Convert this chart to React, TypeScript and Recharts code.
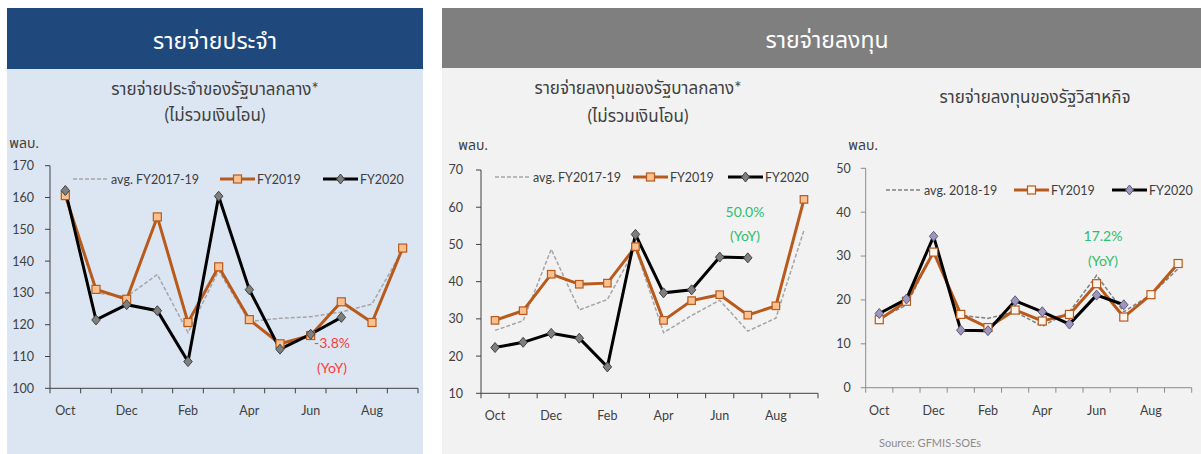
import { Line, LineChart, XAxis, YAxis } from "recharts"

const FONT = "Lato, 'Noto Sans', 'Noto Sans Thai', Tahoma, sans-serif"

const months = ["Oct", "Nov", "Dec", "Jan", "Feb", "Mar", "Apr", "May", "Jun", "Jul", "Aug", "Sep"]

// รายจ่ายประจำ (พลบ.)
const recurAvg = [161, 130, 128.8, 135.8, 117.5, 137, 121, 122, 122.5, 124, 126.5, 143.5]
const recurFy19 = [160.6, 131.1, 128.0, 153.9, 120.7, 138.2, 121.6, 114.0, 116.6, 127.2, 120.7, 144.1]
const recurFy20 = [162.2, 121.5, 126.3, 124.4, 108.4, 160.4, 131.0, 112.3, 117.0, 122.3, null, null]
const recurTicks = [100, 110, 120, 130, 140, 150, 160, 170]

// รายจ่ายลงทุนรัฐบาลกลาง
const invAvg = [26.9, 29.5, 48.7, 32.4, 35.2, 49, 26.3, 30.9, 35.0, 26.7, 30.2, 53.8]
const invFy19 = [29.6, 32.2, 42.0, 39.3, 39.6, 49.4, 29.6, 34.9, 36.5, 31.0, 33.5, 62.1]
const invFy20 = [22.3, 23.7, 26.1, 24.8, 17.1, 52.7, 37.0, 37.8, 46.6, 46.4, null, null]
const invTicks = [10, 20, 30, 40, 50, 60, 70]

// รายจ่ายลงทุนรัฐวิสาหกิจ
const soeAvg = [15.8, 18.8, 31, 16.5, 15.8, 17.3, 14.0, 17.3, 25.6, 17.3, 21.2, 27.1]
const soeFy19 = [15.5, 19.7, 30.9, 16.7, 13.7, 17.7, 15.2, 16.7, 23.7, 16.1, 21.2, 28.3]
const soeFy20 = [16.9, 20.2, 34.5, 13.1, 13.0, 19.8, 17.3, 14.5, 21.1, 18.9, null, null]
const soeTicks = [0, 10, 20, 30, 40, 50]

const ORANGE = "#B85A1C"

function toRows(avg: number[], fy19: number[], fy20: (number | null)[]) {
    return months.map((m, i) => ({ month: m, avg: avg[i], fy19: fy19[i], fy20: fy20[i] }))
}

const squareDot = (fill: string, stroke: string, size: number) => (props: any) => {
    const { cx, cy, index } = props
    if (cx == null || cy == null) return <g key={index} />
    return <rect key={index} x={cx - size / 2} y={cy - size / 2} width={size} height={size} fill={fill} stroke={stroke} strokeWidth={1.2} />
}

const diamondDot = (fill: string, stroke: string, r: number) => (props: any) => {
    const { cx, cy, index } = props
    if (cx == null || cy == null) return <g key={index} />
    return (
        <polygon
            key={index}
            points={`${cx},${cy - r} ${cx + r * 0.85},${cy} ${cx},${cy + r} ${cx - r * 0.85},${cy}`}
            fill={fill}
            stroke={stroke}
            strokeWidth={1}
        />
    )
}

const makeTick = (bw: number, color: string) => (props: any) => {
    const { x, y, payload } = props
    const i = months.indexOf(payload.value)
    return (
        <g>
            <line x1={x - bw / 2} x2={x - bw / 2} y1={y} y2={y + 5} stroke={color} />
            {i === 11 && <line x1={x + bw / 2} x2={x + bw / 2} y1={y} y2={y + 5} stroke={color} />}
            {i % 2 === 0 && (
                <text x={x} y={y + 27} textAnchor="middle" fontSize={12.5} fill="#404040" fontFamily={FONT}>
                    {payload.value}
                </text>
            )}
        </g>
    )
}

type ChartProps = {
    data: any[]
    left: number
    top: number
    width: number
    height: number
    plotLeft: number
    plotRight: number
    plotTop: number
    plotBottom: number
    domain: [number, number]
    ticks: number[]
    tickMargin: number
    axisColor: string
    avgColor: string
    sqFill: string
    sqSize: number
    dmFill: string
    dmStroke: string
}

function PanelChart(p: ChartProps) {
    const plotW = p.plotRight - p.plotLeft
    const bw = plotW / 12
    const mTop = p.plotTop - p.top
    const xH = p.top + p.height - p.plotBottom
    return (
        <div style={{ position: "absolute", left: p.left, top: p.top }}>
            <LineChart
                width={p.width}
                height={p.height}
                data={p.data}
                margin={{ top: mTop, right: p.left + p.width - p.plotRight, left: 0, bottom: 0 }}
            >
                <XAxis
                    dataKey="month"
                    scale="band"
                    interval={0}
                    height={xH}
                    tickSize={0}
                    tickMargin={0}
                    tickLine={false}
                    axisLine={{ stroke: p.axisColor }}
                    tick={makeTick(bw, p.axisColor)}
                />
                <YAxis
                    domain={p.domain}
                    ticks={p.ticks}
                    interval={0}
                    width={p.plotLeft - p.left}
                    tickSize={5}
                    tickMargin={p.tickMargin}
                    axisLine={{ stroke: p.axisColor }}
                    tickLine={{ stroke: p.axisColor }}
                    tick={{ fill: "#404040", fontSize: 12.5, fontFamily: FONT }}
                />
                <Line dataKey="avg" stroke={p.avgColor} strokeWidth={1.5} strokeDasharray="4 2" dot={false} isAnimationActive={false} />
                <Line dataKey="fy19" stroke={ORANGE} strokeWidth={3} dot={squareDot(p.sqFill, ORANGE, p.sqSize)} isAnimationActive={false} />
                <Line dataKey="fy20" stroke="#000" strokeWidth={3} dot={diamondDot(p.dmFill, p.dmStroke, 5)} isAnimationActive={false} />
            </LineChart>
        </div>
    )
}

function Txt({ x, y, size, color, children, anchor = "middle", weight = 400 }: any) {
    const tx = anchor === "middle" ? "-50%" : anchor === "end" ? "-100%" : "0"
    return (
        <div
            style={{
                position: "absolute", left: x, top: y, transform: `translate(${tx}, -50%)`,
                fontSize: size, color, whiteSpace: "nowrap", fontWeight: weight, lineHeight: 1.2,
            }}
        >
            {children}
        </div>
    )
}

function LegendItems({ y, avgX, avgLabel, o19X, b20X, avgColor, sqFill, dmFill, dmStroke }: any) {
    return (
        <g fontFamily={FONT} fontSize={12.5} fill="#404040">
            <line x1={avgX} x2={avgX + 35} y1={y} y2={y} stroke={avgColor} strokeWidth={1.5} strokeDasharray="4 2" />
            <text x={avgX + 38} y={y + 4.5}>{avgLabel}</text>
            <line x1={o19X} x2={o19X + 35} y1={y} y2={y} stroke={ORANGE} strokeWidth={3} />
            <rect x={o19X + 13.5} y={y - 4} width={8} height={8} fill={sqFill} stroke={ORANGE} strokeWidth={1.2} />
            <text x={o19X + 37} y={y + 4.5}>FY2019</text>
            <line x1={b20X} x2={b20X + 35} y1={y} y2={y} stroke="#000" strokeWidth={3} />
            <polygon
                points={`${b20X + 17.5},${y - 5} ${b20X + 21.5},${y} ${b20X + 17.5},${y + 5} ${b20X + 13.5},${y}`}
                fill={dmFill}
                stroke={dmStroke}
            />
            <text x={b20X + 37} y={y + 4.5}>FY2020</text>
        </g>
    )
}

export default function App() {
    return (
        <div style={{ position: "absolute", left: 0, top: 0, width: 1201, height: 454, background: "#fff", overflow: "hidden", fontFamily: FONT }}>
            {/* left panel */}
            <div style={{ position: "absolute", left: 7, top: 8, width: 416, height: 446, background: "#DCE6F2" }} />
            <div style={{ position: "absolute", left: 7, top: 8, width: 416, height: 61, background: "#1F497D" }} />
            <Txt x={215} y={41} size={23} color="#fff">รายจ่ายประจำ</Txt>
            <Txt x={215} y={89} size={17} color="#404040">รายจ่ายประจำของรัฐบาลกลาง*</Txt>
            <Txt x={215} y={115} size={17} color="#404040">(ไม่รวมเงินโอน)</Txt>
            <Txt x={24} y={143} size={14} color="#404040">พลบ.</Txt>

            {/* right panel */}
            <div style={{ position: "absolute", left: 442, top: 8, width: 759, height: 446, background: "#F2F2F2" }} />
            <div style={{ position: "absolute", left: 442, top: 8, width: 759, height: 60, background: "#7F7F7F" }} />
            <Txt x={827} y={40} size={23} color="#fff">รายจ่ายลงทุน</Txt>
            <Txt x={638} y={88} size={17} color="#404040">รายจ่ายลงทุนของรัฐบาลกลาง*</Txt>
            <Txt x={638} y={116} size={17} color="#404040">(ไม่รวมเงินโอน)</Txt>
            <Txt x={473} y={145} size={14} color="#404040">พลบ.</Txt>
            <Txt x={1035} y={97} size={17} color="#404040">รายจ่ายลงทุนของรัฐวิสาหกิจ</Txt>
            <Txt x={863} y={145} size={14} color="#404040">พลบ.</Txt>

            <PanelChart
                data={toRows(recurAvg, recurFy19, recurFy20)}
                left={0} top={140} width={440} height={290}
                plotLeft={50} plotRight={418} plotTop={165.7} plotBottom={388.3}
                domain={[100, 170]} ticks={recurTicks} tickMargin={11}
                axisColor="#404040" avgColor="#A6A6A6"
                sqFill="#FAC090" sqSize={8} dmFill="#7F7F7F" dmStroke="#404040"
            />
            <PanelChart
                data={toRows(invAvg, invFy19, invFy20)}
                left={441} top={140} width={380} height={290}
                plotLeft={481} plotRight={818} plotTop={170} plotBottom={393.3}
                domain={[10, 70]} ticks={invTicks} tickMargin={13}
                axisColor="#404040" avgColor="#A6A6A6"
                sqFill="#FAC090" sqSize={7.5} dmFill="#7F7F7F" dmStroke="#404040"
            />
            <PanelChart
                data={toRows(soeAvg, soeFy19, soeFy20)}
                left={821} top={140} width={380} height={290}
                plotLeft={865.7} plotRight={1191.7} plotTop={168.3} plotBottom={387.7}
                domain={[0, 50]} ticks={soeTicks} tickMargin={10}
                axisColor="#8C8C8C" avgColor="#808080"
                sqFill="#FFF5EC" sqSize={8} dmFill="#9F96BE" dmStroke="#5F5A7A"
            />

            <svg width={1201} height={454} style={{ position: "absolute", left: 0, top: 0, pointerEvents: "none" }}>
                <LegendItems y={179} avgX={73} avgLabel="avg. FY2017-19" o19X={220} b20X={323} avgColor="#A6A6A6" sqFill="#FAC090" dmFill="#7F7F7F" dmStroke="#404040" />
                <LegendItems y={177} avgX={495} avgLabel="avg. FY2017-19" o19X={633} b20X={728} avgColor="#A6A6A6" sqFill="#FAC090" dmFill="#7F7F7F" dmStroke="#404040" />
                <LegendItems y={190} avgX={886} avgLabel="avg. 2018-19" o19X={1014} b20X={1112} avgColor="#808080" sqFill="#FFF5EC" dmFill="#9F96BE" dmStroke="#5F5A7A" />
            </svg>

            <Txt x={332} y={343} size={14} color="#FF3B3B">-3.8%</Txt>
            <Txt x={332} y={368} size={14} color="#FF3B3B">(YoY)</Txt>
            <Txt x={745} y={212} size={14} color="#2DBE6C">50.0%</Txt>
            <Txt x={745} y={236} size={14} color="#2DBE6C">(YoY)</Txt>
            <Txt x={1103} y={236} size={14} color="#2DBE6C">17.2%</Txt>
            <Txt x={1103} y={261} size={14} color="#2DBE6C">(YoY)</Txt>
            <Txt x={879} y={443} size={11} color="#8C8C8C" anchor="start">Source: GFMIS-SOEs</Txt>
        </div>
    )
}
